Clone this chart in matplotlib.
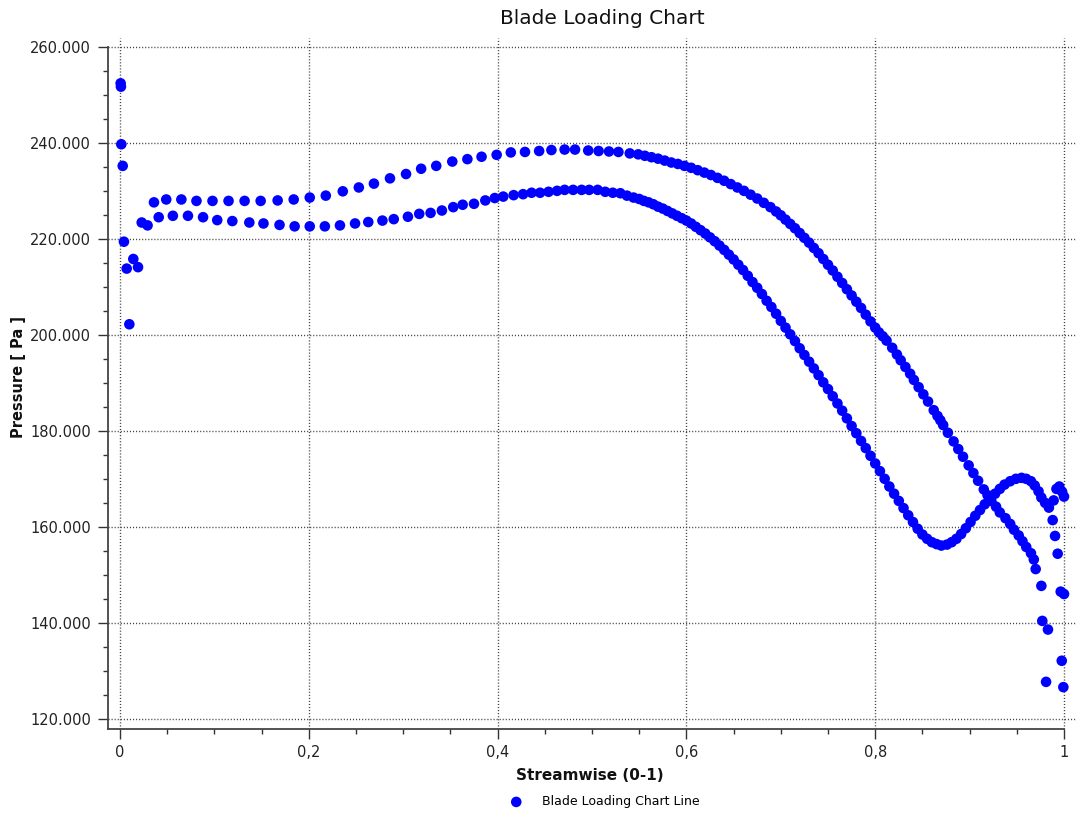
import matplotlib
matplotlib.use("Agg")
import matplotlib.pyplot as plt
from matplotlib.ticker import FixedLocator, FixedFormatter, MultipleLocator

# Leading-edge points (streamwise 0 .. 0.03)
le_x = [0.0007, 0.0010, 0.0014, 0.0029, 0.0042, 0.0071, 0.0099, 0.0141, 0.0191, 0.0230, 0.0292]
le_p = [252.5, 251.8, 239.8, 235.3, 219.5, 213.9, 202.3, 215.9, 214.2, 223.5, 222.9]

# Pressure side
ps_x = [0.036, 0.049, 0.065, 0.081, 0.098, 0.115, 0.132, 0.149, 0.167, 0.184,
        0.201, 0.218, 0.236, 0.253, 0.269, 0.286, 0.303, 0.319, 0.335, 0.352,
        0.368, 0.383, 0.399, 0.414, 0.429, 0.444, 0.457, 0.471, 0.482, 0.496,
        0.507, 0.518, 0.528, 0.540, 0.549, 0.556, 0.563, 0.570, 0.577, 0.584,
        0.591, 0.598, 0.605, 0.612, 0.619, 0.626, 0.633, 0.640, 0.647, 0.654,
        0.661, 0.668, 0.675, 0.682, 0.689, 0.695, 0.700, 0.705, 0.710, 0.715,
        0.720, 0.725, 0.730, 0.735, 0.740, 0.745, 0.750, 0.755, 0.760, 0.765,
        0.770, 0.775, 0.780, 0.785, 0.790, 0.795, 0.800, 0.804, 0.808, 0.812,
        0.818, 0.823, 0.827, 0.832, 0.837, 0.841, 0.846, 0.851, 0.856, 0.862,
        0.866, 0.869, 0.872, 0.877, 0.883, 0.888, 0.893, 0.899, 0.904, 0.909,
        0.915, 0.919, 0.923, 0.928, 0.932, 0.938, 0.943, 0.947, 0.952, 0.956,
        0.960, 0.965, 0.968, 0.970, 0.976]
ps_p = [227.7, 228.3, 228.3, 228.0, 228.0, 228.0, 228.0, 228.0, 228.1, 228.3,
        228.7, 229.1, 230.0, 230.8, 231.6, 232.7, 233.6, 234.7, 235.3, 236.2,
        236.7, 237.2, 237.6, 238.1, 238.2, 238.4, 238.6, 238.7, 238.7, 238.5,
        238.4, 238.3, 238.2, 237.9, 237.7, 237.4, 237.1, 236.8, 236.4, 236.0,
        235.7, 235.3, 234.9, 234.4, 233.9, 233.4, 232.8, 232.2, 231.5, 230.8,
        230.1, 229.3, 228.5, 227.6, 226.7, 225.8, 225.0, 224.1, 223.2, 222.3,
        221.3, 220.3, 219.3, 218.2, 217.1, 215.9, 214.7, 213.5, 212.2, 210.9,
        209.6, 208.3, 207.0, 205.7, 204.3, 202.9, 201.6, 200.6, 199.8, 198.9,
        197.4, 196.0, 194.8, 193.4, 192.0, 190.7, 189.2, 187.7, 186.2, 184.4,
        183.2, 182.3, 181.3, 179.7, 177.9, 176.3, 174.7, 172.9, 171.3, 169.7,
        167.9, 166.7, 165.5, 164.3, 163.1, 161.9, 160.7, 159.5, 158.3, 157.1,
        155.9, 154.6, 153.3, 151.3, 147.8]

# Suction side
ss_x = [0.041, 0.056, 0.072, 0.088, 0.103, 0.119, 0.137, 0.152, 0.169, 0.185,
        0.201, 0.217, 0.233, 0.249, 0.263, 0.278, 0.290, 0.305, 0.317, 0.329,
        0.341, 0.353, 0.363, 0.375, 0.387, 0.397, 0.406, 0.417, 0.427, 0.436,
        0.445, 0.454, 0.463, 0.471, 0.480, 0.489, 0.497, 0.506, 0.514, 0.522,
        0.530, 0.537, 0.544, 0.550, 0.555, 0.560, 0.565, 0.570, 0.575, 0.580,
        0.585, 0.590, 0.595, 0.600, 0.605, 0.610, 0.615, 0.620, 0.625, 0.630,
        0.635, 0.640, 0.645, 0.650, 0.655, 0.660, 0.665, 0.670, 0.675, 0.680,
        0.685, 0.690, 0.695, 0.700, 0.705, 0.710, 0.715, 0.720, 0.725, 0.730,
        0.735, 0.740, 0.745, 0.750, 0.755, 0.760, 0.765, 0.770, 0.775, 0.780,
        0.785, 0.790, 0.795, 0.800, 0.805, 0.810, 0.815, 0.820, 0.825, 0.830,
        0.835, 0.840, 0.845, 0.850, 0.855, 0.860, 0.865, 0.870, 0.876, 0.881,
        0.886, 0.891, 0.896, 0.901, 0.906, 0.911, 0.916, 0.922, 0.927, 0.932,
        0.937, 0.943, 0.949, 0.955, 0.960, 0.965, 0.969, 0.973, 0.976, 0.980,
        0.984, 0.989, 0.992, 0.995, 0.998, 1.000]
ss_p = [224.6, 224.9, 224.9, 224.6, 224.0, 223.8, 223.5, 223.3, 223.0, 222.7,
        222.7, 222.7, 222.9, 223.3, 223.6, 223.9, 224.2, 224.7, 225.3, 225.5,
        226.0, 226.7, 227.2, 227.4, 228.1, 228.6, 228.9, 229.2, 229.4, 229.7,
        229.7, 229.9, 230.1, 230.3, 230.3, 230.3, 230.3, 230.3, 229.9, 229.7,
        229.6, 229.1, 228.7, 228.4, 228.0, 227.7, 227.3, 226.8, 226.4, 225.9,
        225.4, 224.9, 224.4, 223.9, 223.3, 222.6, 221.9, 221.2, 220.4, 219.6,
        218.7, 217.8, 216.8, 215.8, 214.7, 213.6, 212.4, 211.1, 209.9, 208.6,
        207.2, 205.9, 204.5, 203.0, 201.6, 200.2, 198.8, 197.3, 195.9, 194.5,
        193.1, 191.7, 190.2, 188.8, 187.3, 185.8, 184.3, 182.7, 181.1, 179.6,
        178.0, 176.5, 174.9, 173.3, 171.7, 170.1, 168.5, 167.0, 165.5, 164.0,
        162.5, 161.1, 159.7, 158.5, 157.6, 156.9, 156.5, 156.2, 156.4, 156.9,
        157.6, 158.6, 159.8, 161.1, 162.4, 163.6, 164.8, 166.0, 167.0, 168.0,
        168.9, 169.6, 170.1, 170.3, 170.1, 169.6, 168.7, 167.5, 166.2, 165.1,
        164.1, 165.6, 168.0, 168.5, 167.4, 166.4]

# Trailing-edge points
te_x = [0.977, 0.983, 0.981, 0.988, 0.9905, 0.9933, 0.9965, 1.000, 0.9976, 0.9993]
te_p = [140.5, 138.7, 127.8, 161.5, 158.2, 154.5, 146.6, 146.1, 132.2, 126.7]

x_ticks = [0.0, 0.2, 0.4, 0.6, 0.8, 1.0]
x_tick_labels = ["0", "0,2", "0,4", "0,6", "0,8", "1"]
y_ticks = [120, 140, 160, 180, 200, 220, 240, 260]
y_tick_labels = ["120.000", "140.000", "160.000", "180.000",
                 "200.000", "220.000", "240.000", "260.000"]

plt.rcParams["font.family"] = ["DejaVu Sans"]

W, H = 1081, 816
fig = plt.figure(figsize=(W / 100, H / 100), dpi=100)
ax = fig.add_axes([108 / W, 87 / H, 968 / W, 691 / H])

all_x = le_x + ps_x + ss_x + te_x
all_p = le_p + ps_p + ss_p + te_p
pts = ax.scatter(all_x, all_p, s=58, c="#0000ff", edgecolors="none",
                 zorder=3, label="Blade Loading Chart Line")

x_lo, x_hi = -0.0127, 1.0127
y_lo, y_hi = 117.98, 261.94
ax.set_xlim(x_lo, x_hi)
ax.set_ylim(y_lo, y_hi)

ax.xaxis.set_major_locator(FixedLocator(x_ticks))
ax.xaxis.set_major_formatter(FixedFormatter(x_tick_labels))
ax.xaxis.set_minor_locator(MultipleLocator(0.05))
ax.yaxis.set_major_locator(FixedLocator(y_ticks))
ax.yaxis.set_major_formatter(FixedFormatter(y_tick_labels))
ax.yaxis.set_minor_locator(MultipleLocator(5))

for side in ("top", "right"):
    ax.spines[side].set_visible(False)
for side in ("left", "bottom"):
    ax.spines[side].set_color("#444444")
    ax.spines[side].set_linewidth(1.3)
ax.spines["left"].set_bounds(y_lo, 260)
ax.spines["bottom"].set_bounds(x_lo, 1.0)

ax.tick_params(which="major", length=7.2, width=1.0, color="#333333",
               labelsize=10.5, labelcolor="#222222")
ax.tick_params(which="minor", length=3.6, width=1.0, color="#333333")
ax.tick_params(axis="y", which="major", pad=5)
ax.tick_params(axis="x", which="major", pad=4)

ax.set_axisbelow(True)
ax.grid(True, which="major", color="#444444", linewidth=1.0,
        linestyle=(0, (0.8, 1.4)))

fig.text(602 / W, 1 - 19 / H, "Blade Loading Chart", fontsize=14.5,
         ha="center", va="center", color="#111111")
fig.text(590 / W, 1 - 776 / H, "Streamwise (0-1)", fontsize=11,
         fontweight="bold", ha="center", va="center", color="#111111")
fig.text(18.5 / W, 1 - 377 / H, "Pressure [ Pa ]", fontsize=10.5,
         fontweight="bold", rotation=90, ha="center", va="center",
         color="#111111")

fig.legend(handles=[pts], labels=["Blade Loading Chart Line"],
           loc="center left", bbox_to_anchor=(510 / W, 1 - 801.7 / H),
           frameon=False, fontsize=9, handlelength=1.0, handletextpad=1.6,
           borderpad=0, borderaxespad=0, scatterpoints=1)

fig.savefig("out.png", dpi=100)
